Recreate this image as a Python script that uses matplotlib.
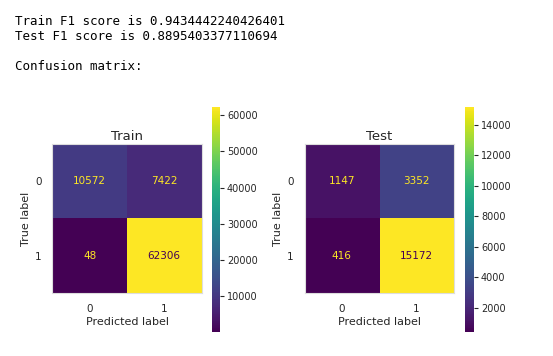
import numpy as np
import matplotlib
matplotlib.use("Agg")
import matplotlib.pyplot as plt

# notebook printout above the plots
train_f1 = 0.9434442240426401
test_f1 = 0.8895403377110694

class_labels = ["0", "1"]
train_cm = np.array([[10572, 7422],
                     [48, 62306]])
test_cm = np.array([[1147, 3352],
                    [416, 15172]])

W, H = 553, 356
TXT = "#262626"


def px(left, top, width, height):
    # pixel box -> figure fraction
    return [left / W, (H - top - height) / H, width / W, height / H]


def draw_cm(fig, cm, title, ax_box, cb_box):
    ax = fig.add_axes(px(*ax_box))
    cmap = plt.get_cmap("viridis")
    im = ax.imshow(cm, cmap=cmap, interpolation="nearest")
    thresh = (cm.max() + cm.min()) / 2.0
    for i in range(cm.shape[0]):
        for j in range(cm.shape[1]):
            color = cmap(1.0) if cm[i, j] < thresh else cmap(0.0)
            ax.text(j, i, str(cm[i, j]), ha="center", va="center",
                    color=color, fontsize=7.5)
    ax.set_xticks(range(len(class_labels)))
    ax.set_yticks(range(len(class_labels)))
    ax.set_xticklabels(class_labels)
    ax.set_yticklabels(class_labels)
    ax.tick_params(length=0, labelsize=7.5, colors=TXT, pad=8)
    ax.set_xlabel("Predicted label", fontsize=8, color=TXT, labelpad=2)
    ax.set_ylabel("True label", fontsize=8, color=TXT, labelpad=3)
    ax.set_title(title, fontsize=9.5, color=TXT, pad=3)
    for s in ax.spines.values():
        s.set_color("#dddddd")
        s.set_linewidth(0.8)

    cax = fig.add_axes(px(*cb_box))
    cb = fig.colorbar(im, cax=cax)
    cb.outline.set_visible(False)
    cax.tick_params(labelsize=7, colors=TXT, length=3, width=0.8, pad=2)
    return ax


fig = plt.figure(figsize=(W / 100, H / 100), dpi=100)

mono = {"family": "DejaVu Sans Mono", "fontsize": 9, "color": "black"}
fig.text(15 / W, 1 - 25 / H, f"Train F1 score is {train_f1}", va="baseline", **mono)
fig.text(15 / W, 1 - 40 / H, f"Test F1 score is {test_f1}", va="baseline", **mono)
fig.text(15 / W, 1 - 70 / H, "Confusion matrix:", va="baseline", **mono)

draw_cm(fig, train_cm, "Train", (52, 144, 150, 149), (212, 107, 8, 225))
draw_cm(fig, test_cm, "Test", (304, 144, 150, 149), (465, 107, 9, 225))

fig.savefig("out.png", dpi=100)
